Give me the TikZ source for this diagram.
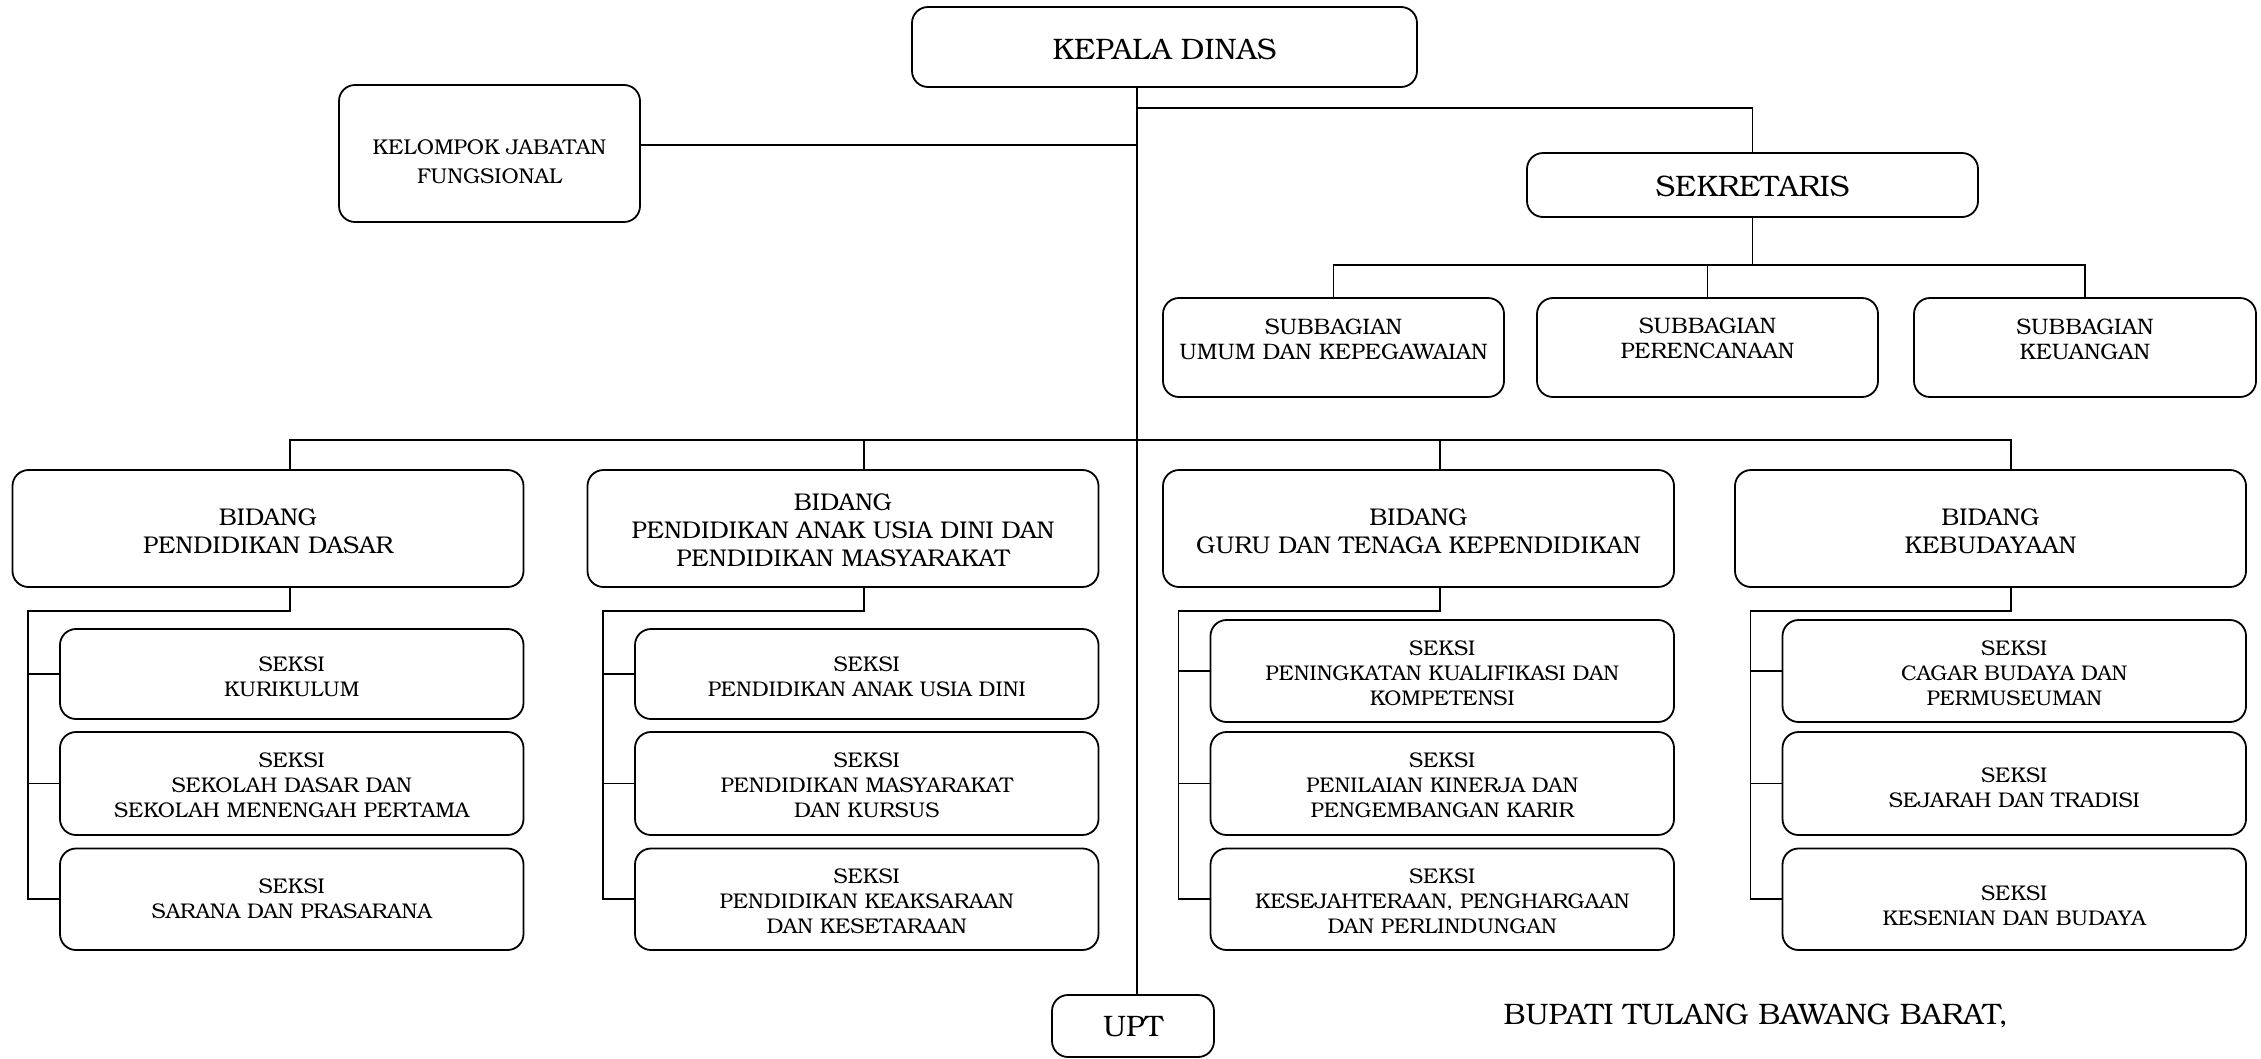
\documentclass[tikz,border=0pt]{standalone}
\usepackage{fontspec}
\setmainfont{texgyrebonum-regular.otf}
% #1 name, #2 position, #3 width, #4 height, #5 text style, #6 text shift, #7 text
\newcommand\orgbox[7]{%
  \node[box,minimum width=#3,minimum height=#4] (#1) at (#2) {};
  \node[txt,#5] (#1t) at ([yshift=#6]#1.center) {#7};}
\begin{document}
\begin{tikzpicture}[x=1pt,y=-1pt,
  box/.style={draw, line width=1.8pt, rounded corners=16pt, inner sep=0pt},
  txt/.style={align=center, inner sep=0pt},
  big/.style={font=\fontsize{29.6}{34}\selectfont},
  mid/.style={font=\fontsize{24.2}{28}\selectfont},
  sml/.style={font=\fontsize{21.25}{25}\selectfont},
  sbg/.style={font=\fontsize{22.4}{25}\selectfont},
  kjfont/.style={font=\fontsize{21.4}{29}\selectfont},
  wire/.style={line width=1.7pt}]
\useasboundingbox (0,0) rectangle (2261,1058);
% top level
\orgbox{kd}{1164.5,47}{505pt}{80pt}{big}{-2.5pt}{KEPALA DINAS}
\orgbox{kjf}{489.5,153.5}{301pt}{137pt}{kjfont}{-8pt}{KELOMPOK JABATAN\\FUNGSIONAL}
\orgbox{sek}{1752.5,185}{451pt}{64pt}{big}{-1pt}{SEKRETARIS}
% subbagian
\orgbox{sb1}{1333.5,347.5}{341pt}{99pt}{sbg}{8.5pt}{SUBBAGIAN\\UMUM DAN KEPEGAWAIAN}
\orgbox{sb2}{1707.5,347.5}{341pt}{99pt}{sbg}{9.5pt}{SUBBAGIAN\\PERENCANAAN}
\orgbox{sb3}{2085,347.5}{342pt}{99pt}{sbg}{8.5pt}{SUBBAGIAN\\KEUANGAN}
% bidang
\orgbox{b1}{268,528.5}{511pt}{117pt}{mid}{-3pt}{BIDANG\\PENDIDIKAN DASAR}
\orgbox{b2}{843,528.5}{511pt}{117pt}{mid}{-1.5pt}{BIDANG\\PENDIDIKAN ANAK USIA DINI DAN\\PENDIDIKAN MASYARAKAT}
\orgbox{b3}{1418.5,528.5}{511pt}{117pt}{mid}{-3pt}{BIDANG\\GURU DAN TENAGA KEPENDIDIKAN}
\orgbox{b4}{1990.5,528.5}{511pt}{117pt}{mid}{-3pt}{BIDANG\\KEBUDAYAAN}
% seksi column 1
\orgbox{s11}{291.75,674}{463.5pt}{90pt}{sml}{-3pt}{SEKSI\\KURIKULUM}
\orgbox{s12}{291.75,783.5}{463.5pt}{103pt}{sml}{-2pt}{SEKSI\\SEKOLAH DASAR DAN\\SEKOLAH MENENGAH PERTAMA}
\orgbox{s13}{291.75,899.25}{463.5pt}{101.5pt}{sml}{1pt}{SEKSI\\SARANA DAN PRASARANA}
% seksi column 2
\orgbox{s21}{866.75,674}{463.5pt}{90pt}{sml}{-3pt}{SEKSI\\PENDIDIKAN ANAK USIA DINI}
\orgbox{s22}{866.75,783.5}{463.5pt}{103pt}{sml}{-2pt}{SEKSI\\PENDIDIKAN MASYARAKAT\\DAN KURSUS}
\orgbox{s23}{866.75,899.25}{463.5pt}{101.5pt}{sml}{-2pt}{SEKSI\\PENDIDIKAN KEAKSARAAN\\DAN KESETARAAN}
% seksi column 3
\orgbox{s31}{1442.25,671}{463.5pt}{102pt}{sml}{-2pt}{SEKSI\\PENINGKATAN KUALIFIKASI DAN\\KOMPETENSI}
\orgbox{s32}{1442.25,783.5}{463.5pt}{103pt}{sml}{-2pt}{SEKSI\\PENILAIAN KINERJA DAN\\PENGEMBANGAN KARIR}
\orgbox{s33}{1442.25,899.25}{463.5pt}{101.5pt}{sml}{-2pt}{SEKSI\\KESEJAHTERAAN, PENGHARGAAN\\DAN PERLINDUNGAN}
% seksi column 4
\orgbox{s41}{2014.25,671}{463.5pt}{102pt}{sml}{-2pt}{SEKSI\\CAGAR BUDAYA DAN\\PERMUSEUMAN}
\orgbox{s42}{2014.25,783.5}{463.5pt}{103pt}{sml}{-4.5pt}{SEKSI\\SEJARAH DAN TRADISI}
\orgbox{s43}{2014.25,899.25}{463.5pt}{101.5pt}{sml}{-6pt}{SEKSI\\KESENIAN DAN BUDAYA}
% UPT and signature
\orgbox{upt}{1133,1026}{162pt}{62pt}{big}{-1pt}{UPT}
\node[big,inner sep=0pt,anchor=base west] (bup) at (1503.5,1024.7) {BUPATI TULANG BAWANG BARAT,};
% connectors
\coordinate (tj) at (1137,440);
\draw[wire] (kd.south -| tj) -- (upt.north -| tj);
\draw[wire] (tj |- 0,108) -| (sek.north);
\draw[wire] (kjf.east |- 0,145) -- (tj |- 0,145);
\draw[wire] (sek.south) -- (sek.south |- 0,265);
\draw[wire] (sb1.north) |- (sb3.north |- 0,265) -- (sb3.north);
\draw[wire] (sb2.north) -- (sb2.north |- 0,265);
\draw[wire] (b1.north -| 290,0) -- (290,440) -- (2011,440) -- (b4.north -| 2011,0);
\draw[wire] (b2.north -| 864,0) -- (864,440);
\draw[wire] (b3.north -| 1440,0) -- (1440,440);
\foreach \i/\c/\sp in {1/290/28, 2/864/603, 3/1440/1178.5, 4/2011/1750.5}{
  \draw[wire] (b\i.south -| \c,0) -- (\c,611) -| (s\i3.west -| \sp,0) -- (s\i3.west);
  \draw[wire] (s\i1.west -| \sp,0) -- (s\i1.west);
  \draw[wire] (s\i2.west -| \sp,0) -- (s\i2.west);
}
\end{tikzpicture}
\end{document}
